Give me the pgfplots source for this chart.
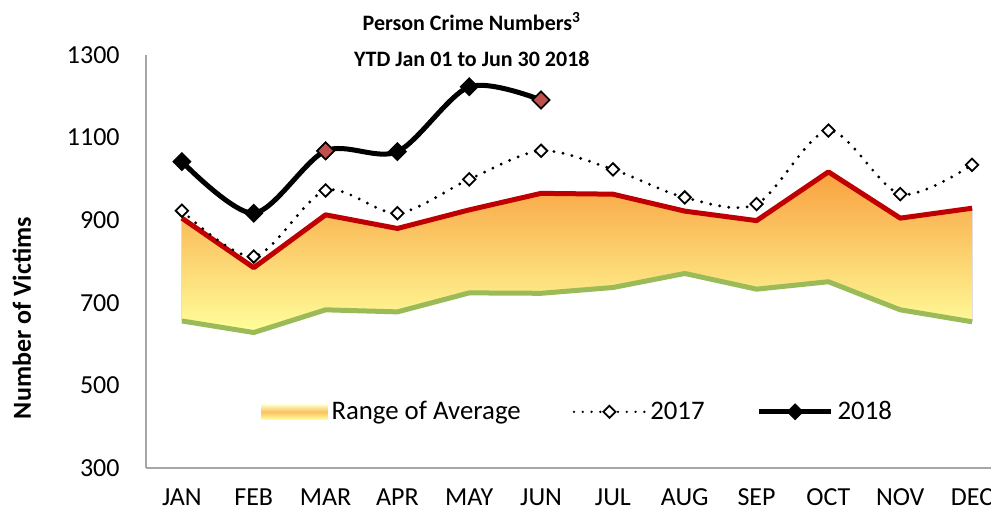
\documentclass[border=0pt]{standalone}
\usepackage{fontspec}
\setmainfont{Carlito}
\usepackage{pgfplots}
\usepackage{pgfplotstable}
\pgfplotsset{compat=1.18}
\usepgfplotslibrary{fillbetween}

\definecolor{avgred}{HTML}{C00000}
\definecolor{avggreen}{HTML}{9BBB59}
\definecolor{shadetop}{HTML}{F9A03F}
\definecolor{shadebot}{HTML}{FFFF9C}
\definecolor{markred}{HTML}{C0504D}
\definecolor{axisgray}{HTML}{A6A6A6}

\newcommand{\lbl}{\fontsize{13}{15.6}\selectfont}

% range of average: upper (red) and lower (green) bounds, 2017 actuals
\pgfplotstableread{
m upper lower y2017
0  905 656  923
1  785 628  812
2  913 683  972
3  880 678  917
4  925 724  999
5  965 723 1068
6  963 737 1023
7  922 771  955
8  899 733  939
9  1017 751 1117
10 905 683  963
11 929 654 1034
}\avgdata

% 2018 year to date
\pgfplotstableread{
m y2018
0 1042
1 917
2 1068
3 1066
4 1223
5 1191
}\ytddata

\begin{document}
\begin{tikzpicture}
\begin{axis}[
    scale only axis,
    width=431pt,
    height=206.5pt,
    xmin=-0.5, xmax=11.5,
    ymin=300, ymax=1300,
    axis x line*=bottom,
    axis y line*=left,
    axis line style={draw=axisgray, line width=0.8pt},
    major tick length=0pt,
    xtick={0,...,11},
    xticklabels={JAN,FEB,MAR,APR,MAY,JUN,JUL,AUG,SEP,OCT,NOV,DEC},
    ytick={300,500,700,900,1100,1300},
    /pgf/number format/1000 sep={},
    /pgf/number format/assume math mode=true,
    tick label style={font=\lbl},
    xticklabel style={anchor=base, inner sep=0pt, yshift=-19pt},
    yticklabel style={anchor=east, inner sep=0pt, xshift=-13pt},
    ylabel={Number of Victims},
    ylabel style={font=\bfseries\lbl, at={(rel axis cs:-0.144,0.363)}, anchor=center},
    title={Person Crime Numbers\textsuperscript{3}\\YTD Jan 01 to Jun 30 2018},
    title style={font=\bfseries\fontsize{11}{18}\selectfont, align=center,
        at={(rel axis cs:0.378,1)}, anchor=center, yshift=1.5pt},
    legend columns=3,
    legend style={draw=none, fill=none, font=\fontsize{13.4}{16}\selectfont,
        at={(0.502,0.136)}, anchor=center,
        /tikz/every even column/.append style={column sep=24pt}},
]
\addplot[name path=upper, draw=none, forget plot] table[x=m, y=upper] {\avgdata};
\addplot[name path=lower, draw=none, forget plot] table[x=m, y=lower] {\avgdata};
\addplot[top color=shadetop, bottom color=shadebot, draw=none, forget plot]
    fill between[of=upper and lower];
\addplot[avgred, line width=2.5pt, line join=round, forget plot] table[x=m, y=upper] {\avgdata};
\addplot[avggreen, line width=2.5pt, line join=round, forget plot] table[x=m, y=lower] {\avgdata};

\addplot[black, line width=1.6pt, dash pattern=on 0pt off 4.6pt, line cap=round,
    smooth, tension=0.5, forget plot] table[x=m, y=y2017] {\avgdata};
\addplot[only marks, mark=square*, mark size=2.2pt,
    mark options={rotate=45, fill=white, draw=black, line width=0.9pt, solid},
    forget plot] table[x=m, y=y2017] {\avgdata};

\addplot[black, line width=2.5pt, smooth, tension=0.5, forget plot,
    mark=square*, mark size=3pt,
    mark options={rotate=45, fill=black, draw=black, line width=0.8pt}]
    table[x=m, y=y2018] {\ytddata};
\addplot[only marks, mark=square*, mark size=3pt,
    mark options={rotate=45, fill=markred, draw=black, line width=0.8pt},
    forget plot] coordinates {(2,1068) (5,1191)};

\addlegendimage{legend image code/.code={
    \shade[draw=none, top color=shadebot!50!white, bottom color=shadebot, middle color=shadetop!65!shadebot]
        (0pt,-3.8pt) rectangle (33pt,3.8pt);}}
\addlegendentry{Range of Average}
\addlegendimage{legend image code/.code={
    \draw[black, line width=1.3pt, dash pattern=on 0pt off 4.4pt, line cap=round]
        (0pt,0pt) -- (35.5pt,0pt);
    \draw[fill=white, draw=black, line width=0.9pt, solid, rotate around={45:(17.75pt,0pt)}]
        (15.6pt,-2.15pt) rectangle (19.9pt,2.15pt);}}
\addlegendentry{2017}
\addlegendimage{legend image code/.code={
    \draw[black, line width=2.5pt] (0pt,0pt) -- (36pt,0pt);
    \draw[fill=black, draw=black, solid, rotate around={45:(18pt,0pt)}]
        (15.2pt,-2.8pt) rectangle (20.8pt,2.8pt);}}
\addlegendentry{2018}
\end{axis}
\pgfresetboundingbox
\path (-73pt,-23pt) rectangle (422.5pt,234pt);
\end{tikzpicture}
\end{document}
